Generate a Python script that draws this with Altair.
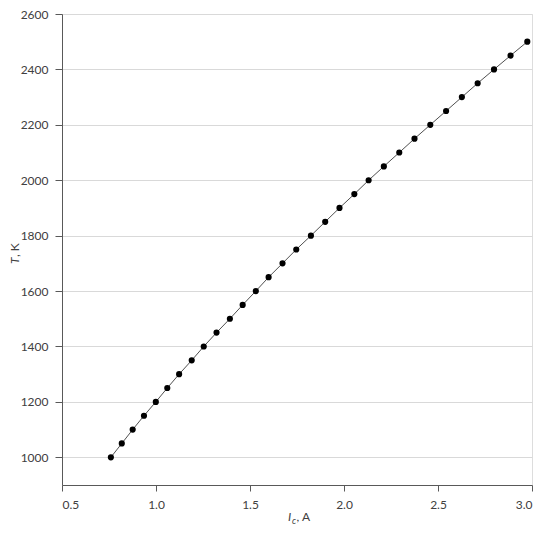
import altair as alt
import pandas as pd

# Data
current_A = [0.760, 0.818, 0.876, 0.936, 0.999, 1.060, 1.123, 1.190, 1.254, 1.322,
             1.393, 1.461, 1.531, 1.599, 1.673, 1.746, 1.824, 1.900, 1.976, 2.055,
             2.131, 2.212, 2.294, 2.375, 2.459, 2.543, 2.627, 2.711, 2.798, 2.886, 2.975]
temperature_K = [1000, 1050, 1100, 1150, 1200, 1250, 1300, 1350, 1400, 1450,
                 1500, 1550, 1600, 1650, 1700, 1750, 1800, 1850, 1900, 1950,
                 2000, 2050, 2100, 2150, 2200, 2250, 2300, 2350, 2400, 2450, 2500]
x_ticks = [0.5, 1.0, 1.5, 2.0, 2.5, 3.0]
y_ticks = [1000, 1200, 1400, 1600, 1800, 2000, 2200, 2400, 2600]

df = pd.DataFrame({"I": current_A, "T": temperature_K})

FONT = "Lato"
LABEL_COLOR = "#404040"

x_enc = alt.X("I:Q", scale=alt.Scale(domain=[0.5, 3.0], nice=False, zero=False),
              axis=alt.Axis(values=x_ticks, format=".1f", title=None, grid=False,
                            domainColor="#595959", tickColor="#595959", tickSize=6,
                            labelPadding=8, labelFontSize=12, labelFont=FONT,
                            labelColor=LABEL_COLOR))
y_enc = alt.Y("T:Q", scale=alt.Scale(domain=[900, 2600], nice=False, zero=False),
              axis=alt.Axis(values=y_ticks, format="d", title=None, grid=True,
                            gridColor="#d9d9d9", gridWidth=1,
                            domainColor="#595959", tickColor="#595959", tickSize=7,
                            labelPadding=7, labelFontSize=12, labelFont=FONT,
                            labelColor=LABEL_COLOR))

line = alt.Chart(df).mark_line(color="#505050", strokeWidth=1).encode(x=x_enc, y=y_enc)
pts = alt.Chart(df).mark_point(filled=True, color="black", size=38, opacity=1).encode(
    x="I:Q", y="T:Q")

# axis titles built from text pieces (italic symbol + subscript)
def txt(s, x, y, size=12, style="normal", angle=0, align="left", baseline="alphabetic"):
    kw = dict(text=s, font=FONT, fontSize=size, fontStyle=style, color=LABEL_COLOR,
              align=align, baseline=baseline)
    if angle:
        kw["angle"] = angle
    return alt.Chart(df.head(1)).mark_text(**kw).encode(x=alt.value(x), y=alt.value(y))

title_layers = [
    txt("I", 226.0, 507, style="italic"),
    txt("c", 230.0, 510, size=9, style="italic"),
    txt(", A", 234.5, 507),
    txt("T", -43.5, 250.0, style="italic", angle=270),
    txt(", K", -43.5, 243.0, angle=270),
]

chart = alt.layer(line, pts, *title_layers).properties(
    width=470, height=471,
    autosize=alt.AutoSizeParams(type="none"),
    padding={"left": 54, "top": 6, "right": 10, "bottom": 43},
).configure_view(stroke=None).configure(background="white")

chart.save("out.html", embed_options={"renderer": "svg", "actions": False})
